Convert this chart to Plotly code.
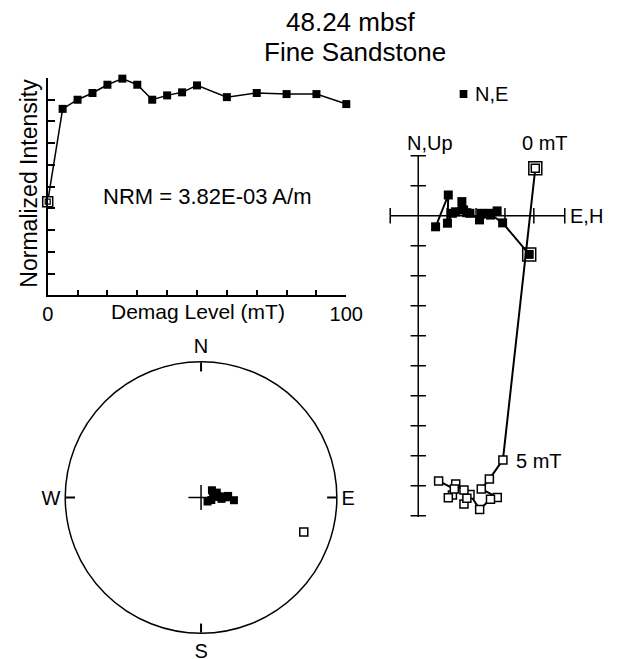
import numpy as np
import plotly.graph_objects as go

# ---- demagnetization data -------------------------------------------------
demag_mT = [0, 5, 10, 15, 20, 25, 30, 35, 40, 45, 50, 60, 70, 80, 90, 100]
norm_intensity = [0.431, 0.858, 0.900, 0.931, 0.969, 0.997, 0.969, 0.900,
                  0.920, 0.934, 0.966, 0.912, 0.931, 0.926, 0.926, 0.880]

# vector components for each step (arbitrary plot units)
east = [3.84, 2.92, 2.46, 2.18, 2.73, 2.50, 2.12, 1.79,
        1.57, 1.68, 1.51, 1.29, 1.18, 1.01, 1.04, 0.60]
north = [-1.29, -0.24, 0.08, 0.08, 0.16, 0.02, -0.14, 0.08,
         0.19, 0.10, 0.47, 0.13, 0.08, -0.25, 0.69, -0.37]
up = [1.58, -8.14, -8.78, -9.11, -9.39, -9.45, -9.79, -9.29,
      -9.61, -9.42, -9.14, -8.94, -9.31, -9.40, -9.11, -8.84]

nrm_text = "NRM = 3.82E-03 A/m"
depth_text = "48.24 mbsf"
lith_text = "Fine Sandstone"

# ---- derived quantities -----------------------------------------------------
E = np.array(east)
N = np.array(north)
U = np.array(up)
horiz = np.hypot(E, N)
dec = np.degrees(np.arctan2(E, N)) % 360
inc = np.degrees(np.arctan2(-U, horiz))
# equal-area (Schmidt) radius, 1 at the primitive
r_eq = np.sqrt(2) * np.sin(np.radians(90 - np.abs(inc)) / 2)
lower = inc >= 0

W, H = 625, 659
FONT = "Liberation Sans, Arial, Helvetica, sans-serif"


def fx(p):
    return p / W


def fy(p):
    return 1 - p / H


fig = go.Figure()

# ---- intensity decay curve -------------------------------------------------
fig.add_trace(go.Scatter(
    x=demag_mT[1:], y=norm_intensity[1:], mode="lines+markers",
    line=dict(color="black", width=1.5),
    marker=dict(symbol="square", size=8, color="black"),
    xaxis="x", yaxis="y", cliponaxis=False, showlegend=False))
fig.add_trace(go.Scatter(
    x=demag_mT[:2], y=norm_intensity[:2], mode="lines",
    line=dict(color="black", width=1.5),
    xaxis="x", yaxis="y", cliponaxis=False, showlegend=False))
fig.add_trace(go.Scatter(
    x=demag_mT[:1], y=norm_intensity[:1], mode="markers",
    marker=dict(symbol="square", size=10, color="white",
                line=dict(color="black", width=1.5)),
    xaxis="x", yaxis="y", cliponaxis=False, showlegend=False))
fig.add_trace(go.Scatter(
    x=demag_mT[:1], y=norm_intensity[:1], mode="markers",
    marker=dict(symbol="square-open", size=5, color="black", line=dict(width=1.2)),
    xaxis="x", yaxis="y", cliponaxis=False, showlegend=False))

xt = list(range(0, 101, 10))
xtext = ["0"] + [""] * 9 + ["100"]

# ---- orthogonal vector diagram --------------------------------------------
ZX0, ZY0, ZS = 428.0, 215.7, 30.0  # origin pixel and pixels per unit
zx_dom = (388, 622)
zy_dom = (80, 535)
zx_range = [(zx_dom[0] - ZX0) / ZS, (zx_dom[1] - ZX0) / ZS]
zy_range = [(ZY0 - zy_dom[1]) / ZS, (ZY0 - zy_dom[0]) / ZS]

h_lo, h_hi = -0.97, 5.07
v_lo, v_hi = -10.04, 2.0

shapes = [
    dict(type="line", xref="x2", yref="y2", x0=h_lo, x1=h_hi, y0=0, y1=0,
         line=dict(color="black", width=1.5), layer="below"),
    dict(type="line", xref="x2", yref="y2", x0=0, x1=0, y0=v_lo, y1=v_hi,
         line=dict(color="black", width=1.5), layer="below"),
    # legend key
    dict(type="rect", xref="paper", yref="paper", x0=fx(471), x1=fx(479),
         y0=fy(98), y1=fy(90), fillcolor="black", line=dict(width=0)),
]

htick = [h_lo, 1, 2, 3, 4, h_hi]
vtick = [v for v in range(-10, 3) if v != 0]
fig.add_trace(go.Scatter(
    x=htick, y=[0] * len(htick), mode="markers",
    marker=dict(symbol="line-ns", size=11, line=dict(color="black", width=1.5)),
    xaxis="x2", yaxis="y2", showlegend=False, hoverinfo="skip"))
fig.add_trace(go.Scatter(
    x=[0] * len(vtick), y=vtick, mode="markers",
    marker=dict(symbol="line-ew", size=11, line=dict(color="black", width=1.5)),
    xaxis="x2", yaxis="y2", showlegend=False, hoverinfo="skip"))

# vertical projection (open squares)
fig.add_trace(go.Scatter(
    x=horiz, y=U, mode="lines+markers",
    line=dict(color="black", width=2),
    marker=dict(symbol="square", size=8, color="white",
                line=dict(color="black", width=1.5)),
    xaxis="x2", yaxis="y2", cliponaxis=False, showlegend=False))
# horizontal projection (filled squares)
fig.add_trace(go.Scatter(
    x=E, y=N, mode="lines+markers",
    line=dict(color="black", width=2),
    marker=dict(symbol="square", size=9, color="black"),
    xaxis="x2", yaxis="y2", cliponaxis=False, showlegend=False))
# frame around the NRM points
fig.add_trace(go.Scatter(
    x=[horiz[0], E[0]], y=[U[0], N[0]], mode="markers",
    marker=dict(symbol="square-open", size=13, color="black", line=dict(width=1.5)),
    xaxis="x2", yaxis="y2", cliponaxis=False, showlegend=False))

# ---- equal-area stereonet --------------------------------------------------
fig.add_trace(go.Scatterpolar(
    r=[0], theta=[0], mode="markers",
    marker=dict(symbol="cross-thin", size=18, line=dict(color="black", width=1.5)),
    subplot="polar", showlegend=False, hoverinfo="skip"))
fig.add_trace(go.Scatterpolar(
    r=r_eq[lower], theta=dec[lower], mode="markers",
    marker=dict(symbol="square", size=8, color="black"),
    subplot="polar", showlegend=False))
fig.add_trace(go.Scatterpolar(
    r=r_eq[~lower], theta=dec[~lower], mode="markers",
    marker=dict(symbol="square", size=8, color="white",
                line=dict(color="black", width=1.5)),
    subplot="polar", showlegend=False))

# ---- text ------------------------------------------------------------------
def ann(text, x, y, size, **kw):
    d = dict(text=text, x=x, y=y, xref="paper", yref="paper", showarrow=False,
             xanchor="center", yanchor="middle",
             font=dict(family=FONT, size=size, color="black"))
    d.update(kw)
    return d


def zann(text, x, y, **kw):
    d = dict(text=text, x=x, y=y, xref="x2", yref="y2", showarrow=False,
             xanchor="center", yanchor="middle",
             font=dict(family=FONT, size=20, color="black"))
    d.update(kw)
    return d


annotations = [
    ann(depth_text, fx(357.5), fy(22), 26),
    ann(lith_text, fx(362.5), fy(52), 26),
    ann("Normalized Intensity", fx(23.5), fy(183), 23, textangle=-90),
    ann(nrm_text, fx(209), fy(196), 22),
    ann("Demag Level (mT)", fx(199), fy(312), 21),
    ann("N,E", fx(485), fy(94), 20, xanchor="left"),
    zann("N,Up", 0, v_hi, xshift=12, yshift=13),
    zann("E,H", h_hi, 0, xanchor="left", xshift=3),
    zann("%d mT" % demag_mT[0], horiz[0], U[0], xshift=10, yshift=25),
    zann("%d mT" % demag_mT[1], horiz[1], U[1], xanchor="left", xshift=11, yshift=-1),
]

fig.update_layout(
    width=W, height=H, margin=dict(l=0, r=0, t=0, b=0),
    paper_bgcolor="white", plot_bgcolor="white",
    font=dict(family=FONT, color="black"),
    xaxis=dict(domain=[fx(43.3), fx(353.3)], range=[0, 100], anchor="y",
               showline=True, linecolor="black", linewidth=1.5,
               ticks="inside", ticklen=6, tickwidth=1.5, tickcolor="black",
               tickmode="array", tickvals=xt, ticktext=xtext,
               tickfont=dict(size=20), showgrid=False, zeroline=False),
    yaxis=dict(domain=[fy(295.3), fy(78)], range=[0, 1], anchor="x",
               showline=True, linecolor="black", linewidth=1.5,
               ticks="inside", ticklen=8, tickwidth=1.5, tickcolor="black",
               tickmode="array", tickvals=[i / 10 for i in range(11)],
               showticklabels=False, showgrid=False, zeroline=False),
    xaxis2=dict(domain=[fx(zx_dom[0]), fx(zx_dom[1])], range=zx_range,
                anchor="y2", visible=False),
    yaxis2=dict(domain=[fy(zy_dom[1]), fy(zy_dom[0])], range=zy_range,
                anchor="x2", visible=False),
    polar=dict(
        domain=dict(x=[fx(61.5), fx(343.5)], y=[fy(638.5), fy(356.5)]),
        bgcolor="white",
        radialaxis=dict(range=[0, 1], visible=False),
        angularaxis=dict(rotation=90, direction="clockwise",
                         tickmode="array", tickvals=[0, 90, 180, 270],
                         ticktext=["N", "E", "S", "W"],
                         ticks="inside", ticklen=9, tickwidth=1.5,
                         tickcolor="black", showgrid=False,
                         showline=True, linecolor="black", linewidth=1.5,
                         tickfont=dict(size=20, family=FONT, color="black")),
    ),
    shapes=shapes,
    annotations=annotations,
)

fig.write_html("out.html")
